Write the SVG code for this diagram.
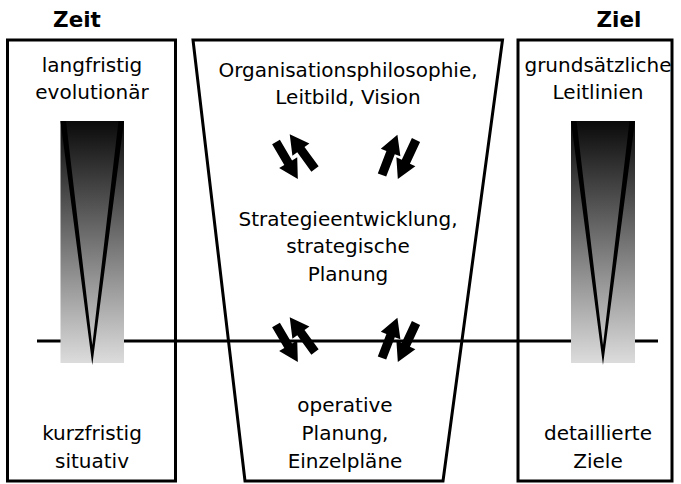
<svg xmlns="http://www.w3.org/2000/svg" width="681" height="484" viewBox="0 0 681 484">
<style>
.box{fill:#fff;stroke:#000;stroke-width:3}
.t{font-family:"DejaVu Sans",sans-serif;font-size:20px;fill:#000;text-anchor:middle}
.h{font-family:"DejaVu Sans",sans-serif;font-size:21.5px;font-weight:bold;fill:#000;text-anchor:middle}
.ln{stroke:#000;stroke-width:3;fill:none}
</style>
<defs>
<linearGradient id="g" x1="0" y1="0" x2="0" y2="1">
<stop offset="0" stop-color="#0a0a0a"/>
<stop offset="1" stop-color="#dcdcdc"/>
</linearGradient>
<polygon id="arr" points="0,-4.5 24,-4.5 24,-10.5 43,0 24,10.5 24,4.5 0,4.5" fill="#000"/>
</defs>
<text class="h" x="77" y="27">Zeit</text>
<text class="h" x="619" y="27">Ziel</text>
<g id="box-zeit"><rect class="box" x="7.5" y="40" width="168" height="441"/>
<text class="t" x="92" y="72">langfristig</text>
<text class="t" x="92" y="99">evolutionär</text>
<text class="t" x="92" y="440">kurzfristig</text>
<text class="t" x="92" y="468">situativ</text></g>
<g id="box-mitte"><polygon class="box" points="193,40 502.5,40 443,481 245,481"/>
<text class="t" x="348" y="77">Organisationsphilosophie,</text>
<text class="t" x="348" y="104">Leitbild, Vision</text>
<text class="t" x="348" y="226">Strategieentwicklung,</text>
<text class="t" x="348" y="253">strategische</text>
<text class="t" x="348" y="281">Planung</text>
<text class="t" x="345" y="412">operative</text>
<text class="t" x="345" y="440">Planung,</text>
<text class="t" x="345" y="468">Einzelpläne</text></g>
<g id="box-ziel"><rect class="box" x="518" y="40" width="154" height="441"/>
<text class="t" x="598" y="72">grundsätzliche</text>
<text class="t" x="598" y="99">Leitlinien</text>
<text class="t" x="598" y="440">detaillierte</text>
<text class="t" x="598" y="468">Ziele</text></g>
<g id="connectors">
<line class="ln" x1="37" y1="341" x2="658" y2="341"/>
<use href="#arr" transform="translate(276,142) rotate(59.5)"/>
<use href="#arr" transform="translate(315,169) rotate(-126)"/>
<use href="#arr" transform="translate(382,175) rotate(-69)"/>
<use href="#arr" transform="translate(416,140) rotate(115)"/>
<use href="#arr" transform="translate(276,325) rotate(59.5)"/>
<use href="#arr" transform="translate(315,352) rotate(-126)"/>
<use href="#arr" transform="translate(382,358) rotate(-69)"/>
<use href="#arr" transform="translate(416,323) rotate(115)"/>
</g>
<g id="bar-zeit">
<rect x="60.5" y="121" width="63.5" height="242" fill="url(#g)"/>
<polygon points="60.5,121 66,121 92.3,345 118.5,121 124,121 92.3,365" fill="#000"/>
</g>
<g id="bar-ziel">
<rect x="571" y="121" width="64" height="242" fill="url(#g)"/>
<polygon points="571,121 576.5,121 603,345 629.5,121 635,121 603,365" fill="#000"/>
</g>
</svg>
